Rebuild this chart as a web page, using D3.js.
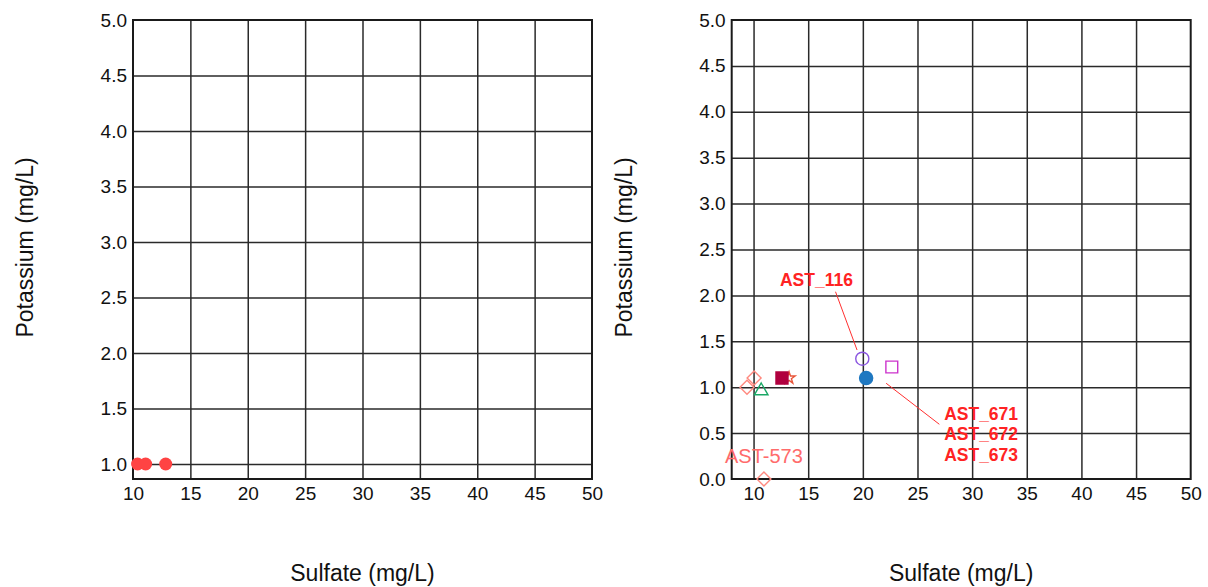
<!DOCTYPE html>
<html>
<head>
<meta charset="utf-8">
<script src="https://cdn.jsdelivr.net/npm/d3@7"></script>
<style>
  html, body { margin: 0; padding: 0; background: #fff; }
  svg { display: block; font-family: "Liberation Sans", Arial, sans-serif; }
</style>
</head>
<body>
<svg id="chart" width="1208" height="587"></svg>
<script>
// ---- data ----
// left panel: samples at the same potassium level
const leftSulfate = [10.4, 11.1, 12.85];
const leftPotassium = [1.0, 1.0, 1.0];

// right panel: individual samples
const rightSulfate = [9.4, 10.05, 10.7, 12.6, 13.25, 19.95, 20.3, 22.65, 10.95];
const rightPotassium = [1.0, 1.1, 0.96, 1.1, 1.1, 1.31, 1.1, 1.22, 0.0];

// tick values
const leftXTicks = [10, 15, 20, 25, 30, 35, 40, 45, 50];
const leftYTicks = [1.0, 1.5, 2.0, 2.5, 3.0, 3.5, 4.0, 4.5, 5.0];
const rightXTicks = [10, 15, 20, 25, 30, 35, 40, 45, 50];
const rightYTicks = [0.0, 0.5, 1.0, 1.5, 2.0, 2.5, 3.0, 3.5, 4.0, 4.5, 5.0];

// annotation texts
const labelUpper = ["AST_116"];
const labelLower = ["AST_671", "AST_672", "AST_673"];
const labelZero = ["AST-573"];

const xTitle = "Sulfate (mg/L)";
const yTitle = "Potassium (mg/L)";

// ---- drawing ----
const svg = d3.select("#chart");
svg.append("rect").attr("width", 1208).attr("height", 587).attr("fill", "#fff");

function panel(opts) {
  const { x, y, xTicks, yTicks } = opts;
  const g = svg.append("g");
  const [x0, x1] = x.range();
  const [y0, y1] = y.range(); // y0 bottom, y1 top
  const w = x1 - x0, h = y0 - y1;

  // grid
  g.append("g")
    .attr("transform", `translate(0,${y0})`)
    .call(d3.axisBottom(x).tickValues(xTicks.filter(v => v > x.domain()[0] && v < x.domain()[1]))
      .tickSize(-h).tickFormat(""))
    .call(s => s.select(".domain").remove())
    .call(s => s.selectAll("line").attr("stroke", "#2a2a2a").attr("stroke-width", 1.5));
  g.append("g")
    .attr("transform", `translate(${x0},0)`)
    .call(d3.axisLeft(y).tickValues(yTicks.filter(v => v > y.domain()[0] && v < y.domain()[1]))
      .tickSize(-w).tickFormat(""))
    .call(s => s.select(".domain").remove())
    .call(s => s.selectAll("line").attr("stroke", "#2a2a2a").attr("stroke-width", 1.5));

  // frame
  g.append("rect")
    .attr("x", x0).attr("y", y1).attr("width", w).attr("height", h)
    .attr("fill", "none").attr("stroke", "#1a1a1a").attr("stroke-width", 2);

  // tick labels
  g.append("g")
    .attr("transform", `translate(0,${y0})`)
    .call(d3.axisBottom(x).tickValues(xTicks).tickSize(0).tickPadding(8).tickFormat(d3.format("d")))
    .call(s => s.select(".domain").remove())
    .call(s => s.selectAll("text").attr("font-size", 19).attr("fill", "#111")
      .attr("font-family", "'Liberation Sans', Arial, sans-serif"));
  g.append("g")
    .attr("transform", `translate(${x0},0)`)
    .call(d3.axisLeft(y).tickValues(yTicks).tickSize(0).tickPadding(6).tickFormat(d3.format(".1f")))
    .call(s => s.select(".domain").remove())
    .call(s => s.selectAll("text").attr("font-size", 19).attr("fill", "#111")
      .attr("font-family", "'Liberation Sans', Arial, sans-serif"));

  // axis titles
  g.append("text")
    .attr("x", (x0 + x1) / 2).attr("y", 581)
    .attr("text-anchor", "middle").attr("font-size", 23).attr("fill", "#111")
    .text(xTitle);
  g.append("text")
    .attr("transform", `translate(${opts.yTitleX},${(y0 + y1) / 2 - 2}) rotate(-90)`)
    .attr("text-anchor", "middle").attr("font-size", 23).attr("fill", "#111")
    .text(yTitle);
  return g;
}

// left panel
const xL = d3.scaleLinear().domain([10, 50]).range([133, 592]);
const yL = d3.scaleLinear().domain([0.865, 5]).range([479, 20]);
const gL = panel({ x: xL, y: yL, xTicks: leftXTicks, yTicks: leftYTicks, yTitleX: 33 });
gL.append("g").selectAll("circle")
  .data(leftSulfate.map((s, i) => [s, leftPotassium[i]]))
  .join("circle")
  .attr("cx", d => xL(d[0])).attr("cy", d => yL(d[1]))
  .attr("r", 6.5).attr("fill", "#ff4343");

// right panel
const xR = d3.scaleLinear().domain([8, 50]).range([731.7, 1190.7]);
const yR = d3.scaleLinear().domain([0, 5]).range([479, 20]);
const gR = panel({ x: xR, y: yR, xTicks: rightXTicks, yTicks: rightYTicks, yTitleX: 632 });

// marker styles, one per right-panel sample
const markerStyles = [
  { type: d3.symbolSquare, size: 98, rotate: 45, fill: "none", stroke: "#ff8a80" },
  { type: d3.symbolSquare, size: 98, rotate: 45, fill: "none", stroke: "#ff8a80" },
  { type: d3.symbolTriangle, size: 80, rotate: 0, fill: "none", stroke: "#1aa866" },
  { type: d3.symbolSquare, size: 144, rotate: 0, fill: "#b0003f", stroke: "#b0003f" },
  { type: d3.symbolStar, size: 45, rotate: 0, fill: "none", stroke: "#e8553a" },
  { type: d3.symbolCircle, size: 135, rotate: 0, fill: "none", stroke: "#8a55e0" },
  { type: d3.symbolCircle, size: 135, rotate: 0, fill: "#1f78c1", stroke: "#1f78c1" },
  { type: d3.symbolSquare, size: 140, rotate: 0, fill: "none", stroke: "#cc33cc" },
  { type: d3.symbolSquare, size: 98, rotate: 45, fill: "none", stroke: "#ff8a80" }
];
const drawOrder = [4, 0, 1, 2, 3, 5, 6, 7, 8];
gR.append("g").selectAll("path")
  .data(drawOrder.map(i => ({ s: rightSulfate[i], k: rightPotassium[i], st: markerStyles[i] })))
  .join("path")
  .attr("transform", d => `translate(${xR(d.s)},${yR(d.k)}) rotate(${d.st.rotate})`)
  .attr("d", d => d3.symbol(d.st.type, d.st.size)())
  .attr("fill", d => d.st.fill)
  .attr("stroke", d => d.st.stroke)
  .attr("stroke-width", 1.4);

// annotations
const ann = gR.append("g").attr("fill", "#ff2323");
ann.append("line")
  .attr("x1", xR(17.5)).attr("y1", yR(2.04))
  .attr("x2", xR(19.47)).attr("y2", yR(1.405))
  .attr("stroke", "#ff3030").attr("stroke-width", 1);
ann.append("text")
  .attr("x", xR(15.75)).attr("y", yR(2.10))
  .attr("text-anchor", "middle").attr("font-size", 17.5).attr("font-weight", "bold")
  .text(labelUpper[0]);

ann.append("line")
  .attr("x1", xR(27.0)).attr("y1", yR(0.596))
  .attr("x2", xR(22.13)).attr("y2", yR(1.043))
  .attr("stroke", "#ff3030").attr("stroke-width", 1);
ann.append("g").selectAll("text")
  .data(labelLower)
  .join("text")
  .attr("x", xR(27.44))
  .attr("y", (d, i) => yR(0.643) + i * 20.5)
  .attr("font-size", 17.5).attr("font-weight", "bold")
  .text(d => d);

gR.append("text")
  .attr("x", xR(rightSulfate[8])).attr("y", yR(0.174))
  .attr("text-anchor", "middle").attr("font-size", 20).attr("fill", "#ff6b6b")
  .text(labelZero[0]);
</script>
</body>
</html>
